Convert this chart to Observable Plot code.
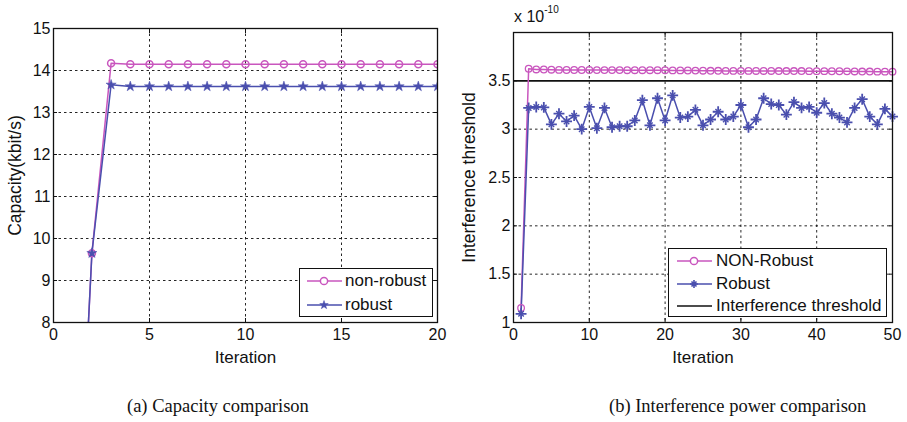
<!DOCTYPE html>
<html>
<head>
<meta charset="utf-8">
<script src="https://cdn.jsdelivr.net/npm/d3@7"></script>
<script src="https://cdn.jsdelivr.net/npm/@observablehq/plot@0.6"></script>
<style>
  body { margin: 0; background: #fff; }
  #wrap { position: relative; width: 907px; height: 422px; overflow: hidden; font-family: "Liberation Sans", Arial, sans-serif; }
  .panel { position: absolute; top: 0; }
  .legend { position: absolute; background: #fff; border: 1.3px solid #111; font-size: 17px; color: #111; box-sizing: border-box; }
  .legend .row { position: absolute; left: 0; display: flex; align-items: center; white-space: nowrap; line-height: 18px; }
  .legend svg { display: block; }
  .caption { position: absolute; font-family: "Liberation Serif", "Times New Roman", serif; font-size: 18.5px; color: #111; white-space: nowrap; }
  .expo { position: absolute; font-size: 16px; color: #111; white-space: nowrap; }
  .expo sup { font-size: 10px; position: relative; top: -3px; }
</style>
</head>
<body>
<div id="wrap"></div>
<script>
// ---------- Data ----------
const seriesLeft = ["non-robust", "robust"];
const iterLeft = [1,2,3,4,5,6,7,8,9,10,11,12,13,14,15,16,17,18,19,20];
const capNonRobust = [0.5, 9.65, 14.17, 14.15, 14.15, 14.15, 14.15, 14.15, 14.15, 14.15, 14.15, 14.15, 14.15, 14.15, 14.15, 14.15, 14.15, 14.15, 14.15, 14.15];
const capRobust    = [0.5, 9.65, 13.66, 13.62, 13.62, 13.62, 13.62, 13.62, 13.62, 13.62, 13.62, 13.62, 13.62, 13.62, 13.62, 13.62, 13.62, 13.62, 13.62, 13.62];
const xTicksLeft = [0, 5, 10, 15, 20];
const yTicksLeft = [8, 9, 10, 11, 12, 13, 14, 15];

const seriesRight = ["NON-Robust", "Robust", "Interference threshold"];
const iterRight = [1,2,3,4,5,6,7,8,9,10,11,12,13,14,15,16,17,18,19,20,21,22,23,24,25,26,27,28,29,30,31,32,33,34,35,36,37,38,39,40,41,42,43,44,45,46,47,48,49,50];
const intNonRobust = [1.15, 3.625, 3.618, 3.617, 3.615, 3.613, 3.612, 3.612, 3.612, 3.612, 3.611, 3.611, 3.611, 3.611, 3.61, 3.61, 3.61, 3.61, 3.61, 3.61, 3.608, 3.608, 3.607, 3.606, 3.605, 3.604, 3.604, 3.603, 3.603, 3.603, 3.603, 3.602, 3.602, 3.602, 3.601, 3.601, 3.601, 3.601, 3.6, 3.6, 3.6, 3.599, 3.599, 3.598, 3.597, 3.596, 3.596, 3.595, 3.595, 3.595];
const intRobust = [1.09, 3.22, 3.23, 3.225, 3.05, 3.16, 3.08, 3.14, 3.00, 3.23, 3.01, 3.22, 3.02, 3.03, 3.03, 3.09, 3.30, 3.04, 3.32, 3.09, 3.35, 3.12, 3.13, 3.20, 3.04, 3.10, 3.18, 3.10, 3.13, 3.25, 3.02, 3.10, 3.32, 3.26, 3.25, 3.15, 3.28, 3.22, 3.23, 3.17, 3.27, 3.16, 3.12, 3.07, 3.22, 3.31, 3.13, 3.05, 3.21, 3.13];
const thresholdValue = [3.5];
const xTicksRight = [0, 10, 20, 30, 40, 50];
const yTicksRight = [1, 1.5, 2, 2.5, 3, 3.5];

const axisTitles = {leftX: "Iteration", leftY: "Capacity(kbit/s)", rightX: "Iteration", rightY: "Interference threshold"};
const captions = ["(a) Capacity comparison", "(b) Interference power comparison"];
const exponentBase = "x 10";
const exponentPow = "-10";

// ---------- Styles ----------
const PINK = "#c956be";
const BLUE = "#4a4fae";
const FONT = "'Liberation Sans', Arial, sans-serif";
const gridStyle = {stroke: "#000", strokeOpacity: 0.85, strokeDasharray: "2.5,3", strokeWidth: 1};
const fmt = d => String(d);
const blank = () => "";
const TICK = -4;   // inward ticks

function axes(xTicks, yTicks, xTitle, yTitle, yTitleOffset) {
  return [
    Plot.axisX(xTicks, {anchor: "bottom", tickFormat: fmt, tickSize: TICK, tickPadding: 10, label: null, fontSize: 16}),
    Plot.axisX(xTicks, {anchor: "top", tickFormat: blank, tickSize: TICK, label: null}),
    Plot.axisY(yTicks, {anchor: "left", tickFormat: fmt, tickSize: TICK, tickPadding: 7, label: null, fontSize: 16}),
    Plot.axisY(yTicks, {anchor: "right", tickFormat: blank, tickSize: TICK, label: null}),
    Plot.axisX([], {anchor: "bottom", label: xTitle, labelAnchor: "center", labelArrow: "none", labelOffset: 40, fontSize: 17}),
    Plot.axisY([], {anchor: "left", label: yTitle, labelAnchor: "center", labelArrow: "none", labelOffset: yTitleOffset, fontSize: 17.5})
  ];
}

const wrap = document.getElementById("wrap");

// ---------- Left chart ----------
const leftData = [
  ...iterLeft.map((x, i) => ({iter: x, value: capNonRobust[i], series: seriesLeft[0]})),
  ...iterLeft.map((x, i) => ({iter: x, value: capRobust[i], series: seriesLeft[1]}))
];
const left = Plot.plot({
  width: 453, height: 370,
  marginLeft: 53, marginRight: 16, marginTop: 28, marginBottom: 48,
  style: {fontFamily: FONT, fontSize: "16px", color: "#111", background: "transparent", overflow: "visible"},
  x: {domain: [0, 20]},
  y: {domain: [8, 15]},
  color: {domain: seriesLeft, range: [PINK, BLUE]},
  marks: [
    Plot.gridX(xTicksLeft.slice(1, -1), gridStyle),
    Plot.gridY(yTicksLeft.slice(1, -1), gridStyle),
    ...axes(xTicksLeft, yTicksLeft, axisTitles.leftX, axisTitles.leftY, 45),
    Plot.line(leftData, {x: "iter", y: "value", stroke: "series", strokeWidth: 1.5, clip: true}),
    Plot.dot(leftData.filter(d => d.series === seriesLeft[0]), {x: "iter", y: "value", symbol: "circle", r: 3.5, stroke: PINK, strokeWidth: 1.5, fill: "none", clip: true}),
    Plot.dot(leftData.filter(d => d.series === seriesLeft[1]), {x: "iter", y: "value", symbol: "star", r: 3.2, fill: BLUE, stroke: BLUE, strokeWidth: 0.5, clip: true}),
    Plot.frame({stroke: "#111", strokeWidth: 1.3})
  ]
});
left.classList.add("panel");
left.style.left = "0px";
wrap.appendChild(left);

// ---------- Right chart ----------
const rightData = [
  ...iterRight.map((x, i) => ({iter: x, value: intNonRobust[i], series: seriesRight[0]})),
  ...iterRight.map((x, i) => ({iter: x, value: intRobust[i], series: seriesRight[1]}))
];
const robustRight = rightData.filter(d => d.series === seriesRight[1]);
const right = Plot.plot({
  width: 454, height: 370,
  marginLeft: 60, marginRight: 15, marginTop: 32, marginBottom: 48,
  style: {fontFamily: FONT, fontSize: "16px", color: "#111", background: "transparent", overflow: "visible"},
  x: {domain: [0, 50]},
  y: {domain: [1, 4]},
  color: {domain: seriesRight.slice(0, 2), range: [PINK, BLUE]},
  marks: [
    Plot.gridX(xTicksRight.slice(1, -1), gridStyle),
    Plot.gridY(yTicksRight.slice(1, -1), gridStyle),
    ...axes(xTicksRight, yTicksRight, axisTitles.rightX, axisTitles.rightY, 51),
    Plot.ruleY(thresholdValue, {stroke: "#111", strokeWidth: 1.6}),
    Plot.line(rightData, {x: "iter", y: "value", stroke: "series", strokeWidth: 1.5}),
    Plot.dot(rightData.filter(d => d.series === seriesRight[0]), {x: "iter", y: "value", symbol: "circle", r: 3.3, stroke: PINK, strokeWidth: 1.3, fill: "none"}),
    Plot.dot(robustRight, {x: "iter", y: "value", symbol: "plus", r: 3.6, stroke: BLUE, strokeWidth: 1.8}),
    Plot.dot(robustRight, {x: "iter", y: "value", symbol: "times", r: 2.6, stroke: BLUE, strokeWidth: 1.4}),
    Plot.frame({stroke: "#111", strokeWidth: 1.3})
  ]
});
right.classList.add("panel");
right.style.left = "453px";
wrap.appendChild(right);

// ---------- Legends ----------
function sample(color, marker) {
  let m = "";
  if (marker === "circle") m = `<circle cx="17" cy="7" r="3.6" fill="#fff" stroke="${color}" stroke-width="1.5"/>`;
  if (marker === "star") {
    const pts = d3.range(10).map(i => {
      const a = -Math.PI / 2 + i * Math.PI / 5, r = i % 2 ? 1.8 : 4.5;
      return [17 + r * Math.cos(a), 7 + r * Math.sin(a)].join(",");
    }).join(" ");
    m = `<polygon points="${pts}" fill="${color}" stroke="${color}" stroke-width="0.5"/>`;
  }
  if (marker === "asterisk") m = `<path d="M17,3V11M13,7H21M14.5,4.5L19.5,9.5M19.5,4.5L14.5,9.5" stroke="${color}" stroke-width="1.6"/>`;
  return `<svg width="35" height="14"><line x1="0" y1="7" x2="35" y2="7" stroke="${color}" stroke-width="1.5"/>${m}</svg>`;
}
function legend(x, y, w, h, rows, rowTops, padLeft, gap) {
  const div = document.createElement("div");
  div.className = "legend";
  Object.assign(div.style, {left: x + "px", top: y + "px", width: w + "px", height: h + "px"});
  rows.forEach((r, i) => {
    const row = document.createElement("div");
    row.className = "row";
    row.style.top = rowTops[i] + "px";
    row.style.left = padLeft + "px";
    row.innerHTML = sample(r.color, r.marker) + `<span style="margin-left:${gap}px">${r.label}</span>`;
    div.appendChild(row);
  });
  wrap.appendChild(div);
}
legend(299, 268, 134, 49, [
  {label: seriesLeft[0], color: PINK, marker: "circle"},
  {label: seriesLeft[1], color: BLUE, marker: "star"}
], [3, 27], 7, 3);
legend(668, 248, 219, 69, [
  {label: seriesRight[0], color: PINK, marker: "circle"},
  {label: seriesRight[1], color: BLUE, marker: "asterisk"},
  {label: seriesRight[2], color: "#111", marker: null}
], [3, 26, 48], 8, 4);

// ---------- Exponent & captions ----------
const expo = document.createElement("div");
expo.className = "expo";
expo.style.left = "514px";
expo.style.top = "7px";
expo.innerHTML = `${exponentBase}<sup>${exponentPow}</sup>`;
wrap.appendChild(expo);

[[127, 396, captions[0]], [609, 396, captions[1]]].forEach(([x, y, t]) => {
  const c = document.createElement("div");
  c.className = "caption";
  c.style.left = x + "px";
  c.style.top = y + "px";
  c.textContent = t;
  wrap.appendChild(c);
});
</script>
</body>
</html>
